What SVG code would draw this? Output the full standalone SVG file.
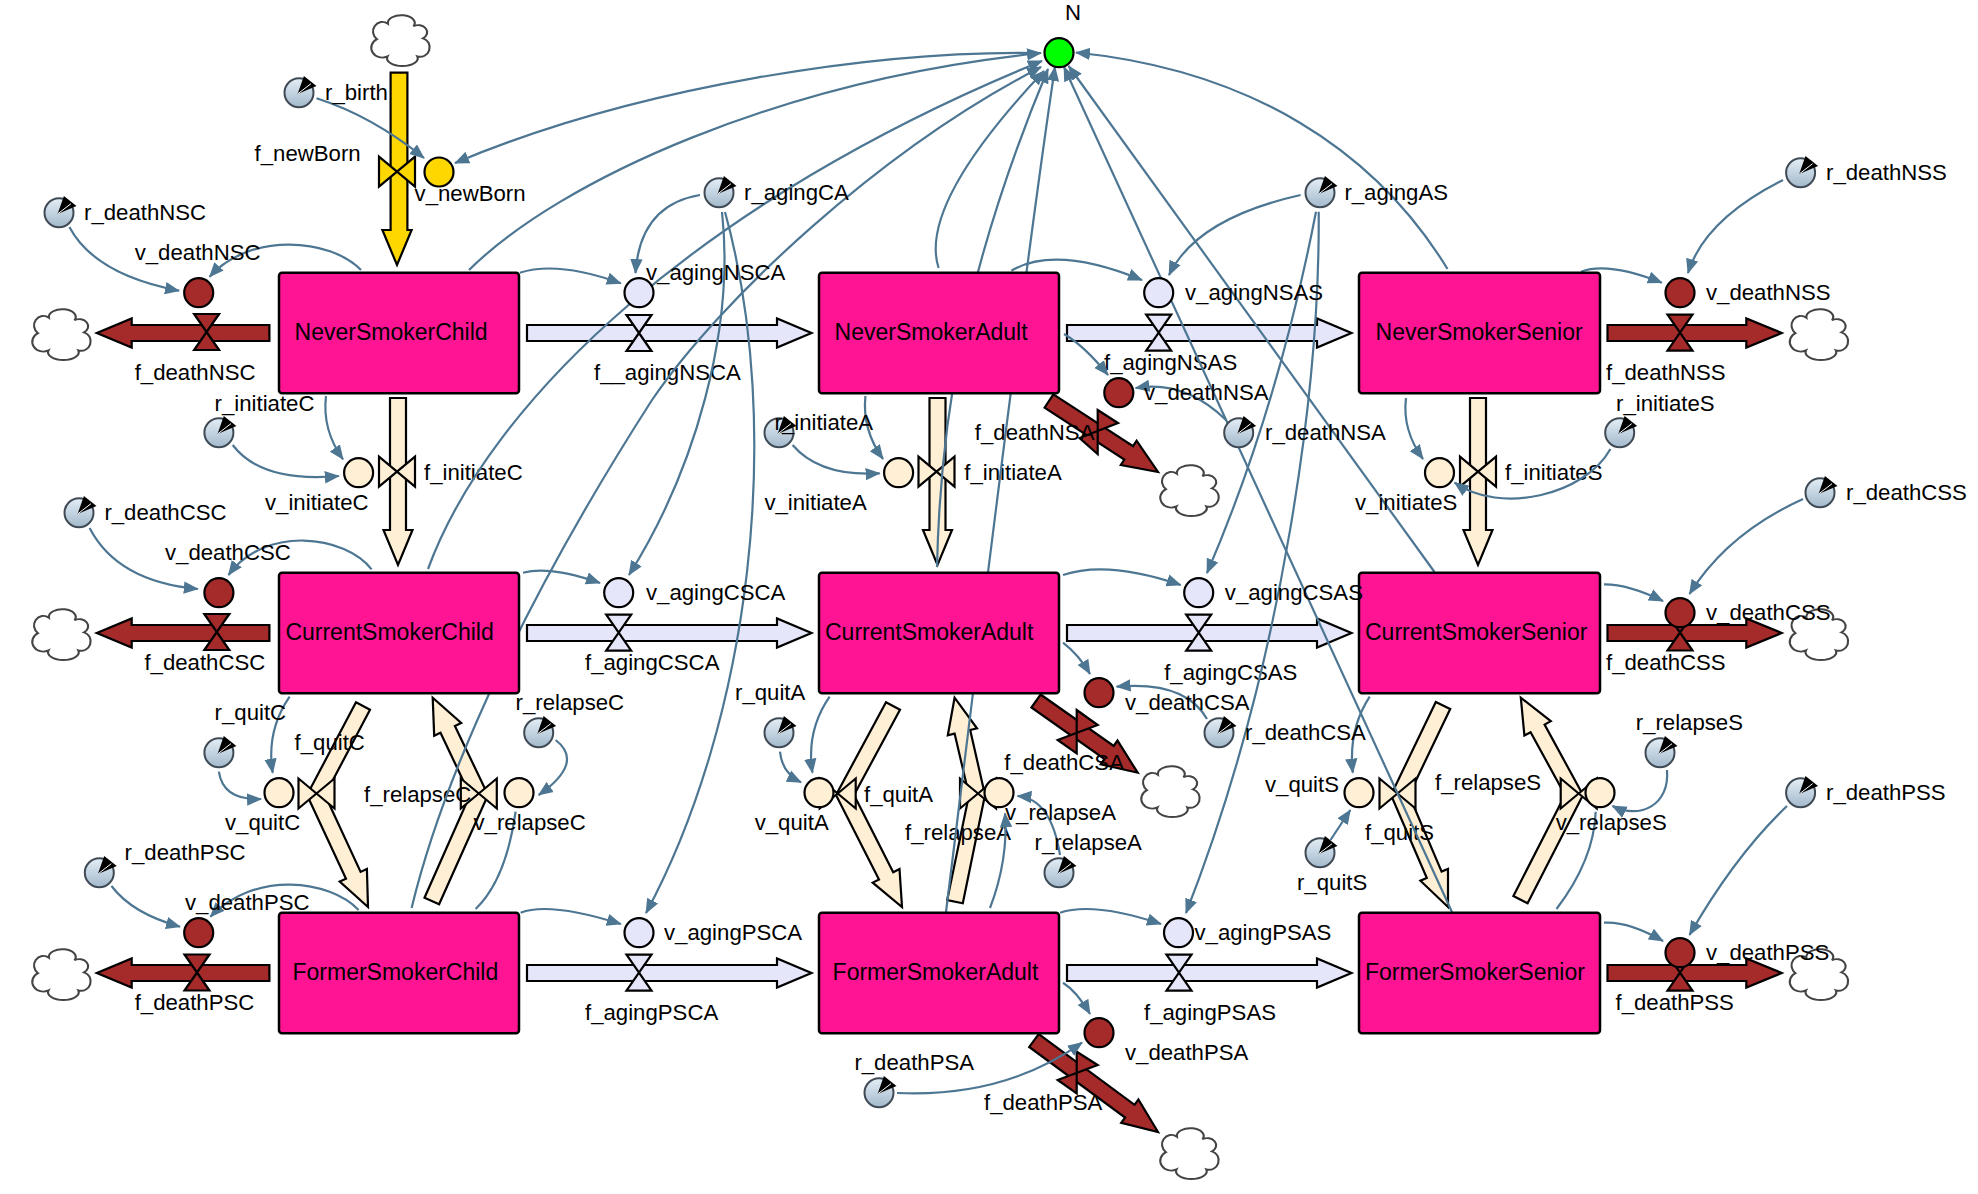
<svg xmlns="http://www.w3.org/2000/svg" xmlns:xlink="http://www.w3.org/1999/xlink" width="1978" height="1194" viewBox="0 0 1978 1194">
<style>
text{font-family:"Liberation Sans",Arial,sans-serif;font-size:22.2px;fill:#000;transform:translateY(1.2px)}
.stock text{font-size:23px}
.stock rect{fill:#FF1493;stroke:#000;stroke-width:2.5}
.fl{stroke:#000;stroke-width:2.2;stroke-linejoin:miter}
.br{fill:#A52A2A}.lv{fill:#E6E6FA}.cr{fill:#FFEFD5}.go{fill:#FFD700}.gr{fill:#00FF00}
.dot{stroke:#000;stroke-width:2.2}
.cloud{fill:#fff;stroke:#444;stroke-width:2.2}
#links path{fill:none;stroke:#4D7693;stroke-width:2.2}
#links path.a{marker-end:url(#ah)}
</style>
<defs>
<marker id="ah" markerUnits="userSpaceOnUse" markerWidth="16" markerHeight="14" viewBox="0 0 16 14" refX="14" refY="7" orient="auto"><path d="M0,0.8 L15,7 L0,13.2 Z" fill="#4D7693"/></marker>
<linearGradient id="gg" x1="0" y1="0" x2="0" y2="1"><stop offset="0" stop-color="#E4EEF6"/><stop offset="1" stop-color="#A3B9CC"/></linearGradient>
<g id="gauge"><circle r="14.5" fill="url(#gg)" stroke="#3F4A55" stroke-width="2"/><polygon points="-1.4,1.3 4.9,-16.7 17.5,-6.7" fill="#000"/><line x1="-1" y1="1" x2="12" y2="-9" stroke="#fff" stroke-width="1"/></g>
<path id="valveV" d="M-12.5,-18 H12.5 L-12.5,18 H12.5 Z" class="fl"/>
<path id="valveH" d="M-18,-15 V15 L18,-15 V15 Z" class="fl"/>
<path id="cloud" class="cloud" transform="translate(1 1) scale(0.96 0.86)" d="M-12.6,-19 A14 9 0 1 1 14,-16 A9 8 0 1 1 24,-2 A9 10 0 1 1 18,19 A16 9 0 1 1 -13,19 A10 10 0 1 1 -24,-1 A8 9 0 1 1 -12.6,-19 Z"/>
<polygon id="aging" class="fl" points="0,-8 250,-8 250,-14.5 284.5,0 250,14.5 250,8 0,8"/>
<polygon id="deathR" class="fl" points="0,-8 138.8,-8 138.8,-14.5 174.2,0 138.8,14.5 138.8,8 0,8"/>
<polygon id="deathL" class="fl" points="0,-8 -137.7,-8 -137.7,-14.5 -172.6,0 -137.7,14.5 -137.7,8 0,8"/>
<polygon id="downC" class="fl" points="-8,0 8,0 8,132 14.5,132 0,167 -14.5,132 -8,132"/>
</defs>
<rect width="1978" height="1194" fill="#fff"/>

<g id="clouds">
<use href="#cloud" x="399" y="39"/><use href="#cloud" x="60" y="333"/><use href="#cloud" x="1817.5" y="333"/>
<use href="#cloud" x="60" y="633"/><use href="#cloud" x="1817.5" y="633"/><use href="#cloud" x="60" y="973"/>
<use href="#cloud" x="1817.5" y="973"/><use href="#cloud" x="1188" y="489"/><use href="#cloud" x="1169" y="790"/><use href="#cloud" x="1188" y="1152"/>
</g>

<g id="f_newBorn"><polygon class="fl go" points="390.6,72.7 407.4,72.7 407.4,230 411.6,230 397,265 382.4,230 390.6,230"/><use href="#valveH" x="397" y="171.7" class="go"/><text x="254.6" y="160">f_newBorn</text></g>
<g id="f_deathNSC"><use href="#deathL" x="269.4" y="333" class="br"/><use href="#valveV" x="206.6" y="332" class="br"/><text x="134.7" y="379">f_deathNSC</text></g>
<g id="f_deathCSC"><use href="#deathL" x="269.4" y="633" class="br"/><use href="#valveV" x="216.8" y="632" class="br"/><text x="144.4" y="669">f_deathCSC</text></g>
<g id="f_deathPSC"><use href="#deathL" x="269.4" y="973" class="br"/><use href="#valveV" x="197" y="972.5" class="br"/><text x="134.7" y="1009">f_deathPSC</text></g>
<g id="f__agingNSCA"><use href="#aging" x="527" y="333" class="lv"/><use href="#valveV" x="639" y="333" class="lv"/><text x="594" y="379">f__agingNSCA</text></g>
<g id="f_agingCSCA"><use href="#aging" x="527" y="633" class="lv"/><use href="#valveV" x="618.7" y="632.7" class="lv"/><text x="585" y="669">f_agingCSCA</text></g>
<g id="f_agingPSCA"><use href="#aging" x="527" y="973" class="lv"/><use href="#valveV" x="639" y="972.7" class="lv"/><text x="585" y="1019">f_agingPSCA</text></g>
<g id="f_agingNSAS"><use href="#aging" x="1067" y="333" class="lv"/><use href="#valveV" x="1158.7" y="332.7" class="lv"/><text x="1104" y="369">f_agingNSAS</text></g>
<g id="f_agingCSAS"><use href="#aging" x="1067" y="633" class="lv"/><use href="#valveV" x="1198.7" y="632.7" class="lv"/><text x="1164.2" y="679">f_agingCSAS</text></g>
<g id="f_agingPSAS"><use href="#aging" x="1067" y="973" class="lv"/><use href="#valveV" x="1179" y="972.7" class="lv"/><text x="1144" y="1019">f_agingPSAS</text></g>
<g id="f_deathNSS"><use href="#deathR" x="1607.5" y="333" class="br"/><use href="#valveV" x="1680" y="332.7" class="br"/><text x="1606" y="379">f_deathNSS</text></g>
<g id="f_deathCSS"><use href="#deathR" x="1607.5" y="633" class="br"/><use href="#valveV" x="1680" y="632.5" class="br"/><text x="1606" y="669">f_deathCSS</text></g>
<g id="f_deathPSS"><use href="#deathR" x="1607.5" y="973" class="br"/><use href="#valveV" x="1680" y="972.7" class="br"/><text x="1615.5" y="1009">f_deathPSS</text></g>
<g id="f_initiateC"><use href="#downC" x="398" y="398" class="cr"/><use href="#valveH" x="397" y="471.7" class="cr"/><text x="424" y="479">f_initiateC</text></g>
<g id="f_initiateA"><use href="#downC" x="937.5" y="398" class="cr"/><use href="#valveH" x="936.5" y="471.7" class="cr"/><text x="964.3" y="479">f_initiateA</text></g>
<g id="f_initiateS"><use href="#downC" x="1478" y="398" class="cr"/><use href="#valveH" x="1478" y="471.7" class="cr"/><text x="1505" y="479">f_initiateS</text></g>
<g id="f_deathNSA"><polygon class="fl br" points="1053.4,394.3 1133.1,446.2 1136.6,440.7 1158,472 1120.8,465 1124.3,459.6 1044.6,407.7"/><path class="fl br" d="M1097.7,410 L1118,423 L1079.6,438 L1097.7,454 Z"/><text x="974.8" y="439">f_deathNSA</text></g>
<g id="f_deathCSA"><polygon class="fl br" points="1040.6,694.5 1113.7,746 1117.5,740.6 1137.7,772.7 1100.7,764.4 1104.5,759 1031.4,707.5"/><path class="fl br" d="M1076.7,710 L1097.7,725 L1057.7,740 L1076.7,753.3 Z"/><text x="1004.3" y="769">f_deathCSA</text></g>
<g id="f_deathPSA"><polygon class="fl br" points="1038.8,1034.1 1134.5,1104.8 1138.4,1099.5 1158,1132 1121.2,1122.9 1125.1,1117.6 1029.2,1046.9"/><path class="fl br" d="M1076.7,1051.7 L1097.7,1065 L1057.7,1080 L1076.7,1093.3 Z"/><text x="984" y="1109">f_deathPSA</text></g>
<g id="f_quitC"><polygon class="fl cr" points="370,709.7 325,795 360.6,871.9 366.9,869 368,907 339.7,881.6 346,878.7 307,795 356,702.3"/><use href="#valveH" x="316.5" y="793.5" class="cr"/><text x="294.6" y="749">f_quitC</text></g>
<g id="f_relapseC"><polygon class="fl cr" points="439.1,904.2 488,795 454.9,725.9 461.2,722.9 432.7,697.7 434.2,735.7 440.5,732.7 470,795 424.5,897.8"/><use href="#valveH" x="478.8" y="793.5" class="cr"/><text x="364" y="801">f_relapseC</text></g>
<g id="f_quitA"><polygon class="fl cr" points="900,709.8 854,795 893.2,872.2 899.5,869 902,907 872.7,882.6 879,879.4 836,795 886,702.2"/><use href="#valveH" x="837.7" y="793.5" class="cr"/><text x="864" y="801">f_quitA</text></g>
<g id="f_relapseA"><polygon class="fl cr" points="962.8,903.3 985,795 970.2,730 977,728.4 954.6,697.7 947.8,735.2 954.6,733.6 969,795 947.2,900.1"/><use href="#valveH" x="978" y="793.5" class="cr"/><text x="905" y="839">f_relapseA</text></g>
<g id="f_quitS"><polygon class="fl cr" points="1450.2,709 1409,795 1441.6,871.6 1448,868.9 1448,907 1420.4,880.7 1426.8,878 1391,795 1435.8,702"/><use href="#valveH" x="1397.5" y="793.5" class="cr"/><text x="1365" y="839">f_quitS</text></g>
<g id="f_relapseS"><polygon class="fl cr" points="1527.6,903.3 1583,795 1544.6,724.6 1550.8,721.2 1520.8,697.7 1524.4,735.6 1530.6,732.2 1565,795 1513.4,896"/><use href="#valveH" x="1578.7" y="793.5" class="cr"/><text x="1435" y="789">f_relapseS</text></g>

<g id="links">
<path class="a" d="M69.4 227 Q94.6 274.5 179 290.7"/>
<path class="a" d="M361 270 C330 238 250 232 209.6 276.7"/>
<path class="a" d="M316.5 98.3 Q372 116 424 158"/>
<path class="a" d="M1041 53 C880 50 640 85 455 163"/>
<path class="a" d="M469 270 C560 180 780 80 1041 53"/>
<path class="a" d="M428 569 C490 400 700 200 1042 61"/>
<path class="a" d="M411.6 908 C445 770 530 590 652 400 C720 300 880 150 1041 67"/>
<path class="a" d="M938.6 268 Q918 204.5 1044 71"/>
<path class="a" d="M937 567 C940 430 960 280 1048 69"/>
<path class="a" d="M946 912 C965 760 1020 300 1055 67"/>
<path class="a" d="M1447.5 269 C1375 150 1250 70 1076 52.5"/>
<path class="a" d="M1434.5 572 L1068.6 66"/>
<path class="a" d="M1452 912 L1064 67"/>
<path class="a" d="M700 195 Q640 205 635.5 273"/>
<path class="a" d="M722 212 C735 330 695 470 629 575"/>
<path class="a" d="M725 212 C785 430 750 720 646 913"/>
<path class="a" d="M1300.6 195 Q1196.4 218.4 1169 275"/>
<path class="a" d="M1316 211.7 Q1278 408 1207 573"/>
<path class="a" d="M1318.7 211.7 C1320 380 1285 660 1186 913"/>
<path class="a" d="M1011.4 270.7 Q1055.3 244.7 1142 280"/>
<path class="a" d="M1064 334 Q1084 345.5 1108 375"/>
<path class="a" d="M1226 420 Q1185 380 1135.6 388"/>
<path class="a" d="M519.8 272.7 Q557.7 260.6 620.8 283.3"/>
<path class="a" d="M523 572.7 Q549.5 565.5 600 583"/>
<path class="a" d="M232.7 445 Q261.4 482.9 338.8 476"/>
<path class="a" d="M326 396 Q322 430 343 459.3"/>
<path class="a" d="M89.6 528 Q117.3 581.5 197.8 589"/>
<path class="a" d="M371.6 569.3 C345 535 265 525 228.5 575"/>
<path class="a" d="M289.6 696.7 Q266 731.3 272.7 772.7"/>
<path class="a" d="M218.9 771.7 Q223 800.7 261 799"/>
<path class="a" d="M555.6 740 Q585 762.5 538.7 795"/>
<path d="M475.6 909 Q506 879.6 515.6 811.7"/>
<path class="a" d="M111.5 886 Q132.2 913.6 180 926.7"/>
<path class="a" d="M358.6 910 C330 880 255 870 210.4 916.7"/>
<path class="a" d="M520.6 912.7 Q549.3 901.6 620.8 924"/>
<path class="a" d="M1060 912.7 Q1093.5 901.6 1161 924"/>
<path class="a" d="M1063 982.7 Q1077 991.6 1090 1014"/>
<path class="a" d="M897 1093 Q1003.9 1098 1082 1042.7"/>
<path class="a" d="M792.6 445 Q820 477 879.7 473.3"/>
<path class="a" d="M865.4 396 Q862 430 883 459"/>
<path class="a" d="M1063 575 Q1107.2 560 1180.6 585"/>
<path class="a" d="M1063 642.7 Q1079 655 1090 674"/>
<path class="a" d="M1207 719 Q1185.2 680.5 1116.6 686.7"/>
<path class="a" d="M829.6 696.7 Q806 731 812.4 772.7"/>
<path class="a" d="M780 751.7 Q782 773 801 782.3"/>
<path class="a" d="M990 908 Q1008.5 859.4 1005 813.3"/>
<path class="a" d="M1060 855 Q1051 798.5 1017.5 796"/>
<path class="a" d="M1610.4 449 C1585 495 1500 515 1454.7 482.7"/>
<path class="a" d="M1406 398 Q1402 430 1423 459"/>
<path class="a" d="M1803 499 Q1727.2 533.5 1689.5 594"/>
<path class="a" d="M1604 584.3 Q1628 584 1663 601"/>
<path class="a" d="M1369.7 696.7 Q1348 730 1352.8 772.7"/>
<path class="a" d="M1330.5 840 L1350.3 810"/>
<path class="a" d="M1667 770 C1670 805 1640 820 1612.5 806"/>
<path d="M1556.5 909 Q1594 859.6 1595.7 811.7"/>
<path class="a" d="M1787 806 Q1735 855.5 1689.5 935"/>
<path class="a" d="M1604 922.7 Q1628 921 1663 941"/>
<path class="a" d="M1783 180 Q1704.5 219.5 1688 273"/>
<path class="a" d="M1581 271.7 Q1607.8 261.4 1661.8 282.7"/>
</g>

<g id="NeverSmokerChild" class="stock"><rect x="279" y="272.7" width="240" height="120.6" rx="3"/><text x="294.6" y="339">NeverSmokerChild</text></g>
<g id="NeverSmokerAdult" class="stock"><rect x="819" y="272.7" width="240" height="120.6" rx="3"/><text x="834.6" y="339">NeverSmokerAdult</text></g>
<g id="NeverSmokerSenior" class="stock"><rect x="1359" y="272.7" width="241" height="120.6" rx="3"/><text x="1375.6" y="339">NeverSmokerSenior</text></g>
<g id="CurrentSmokerChild" class="stock"><rect x="279" y="572.7" width="240" height="120.6" rx="3"/><text x="285.4" y="639">CurrentSmokerChild</text></g>
<g id="CurrentSmokerAdult" class="stock"><rect x="819" y="572.7" width="240" height="120.6" rx="3"/><text x="825" y="639">CurrentSmokerAdult</text></g>
<g id="CurrentSmokerSenior" class="stock"><rect x="1359" y="572.7" width="241" height="120.6" rx="3"/><text x="1365" y="639">CurrentSmokerSenior</text></g>
<g id="FormerSmokerChild" class="stock"><rect x="279" y="912.7" width="240" height="120.6" rx="3"/><text x="292.5" y="979">FormerSmokerChild</text></g>
<g id="FormerSmokerAdult" class="stock"><rect x="819" y="912.7" width="240" height="120.6" rx="3"/><text x="832.6" y="979">FormerSmokerAdult</text></g>
<g id="FormerSmokerSenior" class="stock"><rect x="1359" y="912.7" width="241" height="120.6" rx="3"/><text x="1365" y="979">FormerSmokerSenior</text></g>

<g id="N"><circle cx="1059" cy="52.7" r="14.5" class="dot gr"/><text x="1065" y="19">N</text></g>
<g id="v_newBorn"><circle cx="439" cy="172" r="14.5" class="dot go"/><text x="414.6" y="200">v_newBorn</text></g>
<g id="v_deathNSC"><circle cx="198.7" cy="292.7" r="14.5" class="dot br"/><text x="134.7" y="259">v_deathNSC</text></g>
<g id="v_deathCSC"><circle cx="218.9" cy="592.7" r="14.5" class="dot br"/><text x="165" y="559">v_deathCSC</text></g>
<g id="v_deathPSC"><circle cx="198.7" cy="932.7" r="14.5" class="dot br"/><text x="185" y="909">v_deathPSC</text></g>
<g id="v_agingNSCA"><circle cx="639" cy="292.7" r="14.5" class="dot lv"/><text x="646" y="279">v_agingNSCA</text></g>
<g id="v_agingCSCA"><circle cx="618.7" cy="592.7" r="14.5" class="dot lv"/><text x="646" y="599">v_agingCSCA</text></g>
<g id="v_agingPSCA"><circle cx="639" cy="932.7" r="14.5" class="dot lv"/><text x="664" y="939">v_agingPSCA</text></g>
<g id="v_agingNSAS"><circle cx="1158.7" cy="292.7" r="14.5" class="dot lv"/><text x="1185" y="299">v_agingNSAS</text></g>
<g id="v_agingCSAS"><circle cx="1198.7" cy="592.7" r="14.5" class="dot lv"/><text x="1224.8" y="599">v_agingCSAS</text></g>
<g id="v_agingPSAS"><circle cx="1178.5" cy="932.7" r="14.5" class="dot lv"/><text x="1194.5" y="939">v_agingPSAS</text></g>
<g id="v_deathNSA"><circle cx="1118.8" cy="392.7" r="14.5" class="dot br"/><text x="1144" y="399">v_deathNSA</text></g>
<g id="v_deathCSA"><circle cx="1099" cy="692.7" r="14.5" class="dot br"/><text x="1125" y="709">v_deathCSA</text></g>
<g id="v_deathPSA"><circle cx="1099" cy="1032.7" r="14.5" class="dot br"/><text x="1125" y="1059">v_deathPSA</text></g>
<g id="v_deathNSS"><circle cx="1680" cy="292.7" r="14.5" class="dot br"/><text x="1706" y="299">v_deathNSS</text></g>
<g id="v_deathCSS"><circle cx="1680" cy="612.7" r="14.5" class="dot br"/><text x="1706" y="619">v_deathCSS</text></g>
<g id="v_deathPSS"><circle cx="1680" cy="952.7" r="14.5" class="dot br"/><text x="1706" y="959">v_deathPSS</text></g>
<g id="v_initiateC"><circle cx="358.6" cy="472.7" r="14.5" class="dot cr"/><text x="265" y="509">v_initiateC</text></g>
<g id="v_initiateA"><circle cx="898.6" cy="472.7" r="14.5" class="dot cr"/><text x="764.4" y="509">v_initiateA</text></g>
<g id="v_initiateS"><circle cx="1439.5" cy="472.7" r="14.5" class="dot cr"/><text x="1355" y="509">v_initiateS</text></g>
<g id="v_quitC"><circle cx="279" cy="792.7" r="14.5" class="dot cr"/><text x="225" y="829">v_quitC</text></g>
<g id="v_relapseC"><circle cx="519" cy="792.7" r="14.5" class="dot cr"/><text x="473.5" y="829">v_relapseC</text></g>
<g id="v_quitA"><circle cx="819" cy="792.7" r="14.5" class="dot cr"/><text x="754.7" y="829">v_quitA</text></g>
<g id="v_relapseA"><circle cx="999" cy="792.7" r="14.5" class="dot cr"/><text x="1005" y="819">v_relapseA</text></g>
<g id="v_quitS"><circle cx="1359" cy="792.7" r="14.5" class="dot cr"/><text x="1265" y="791">v_quitS</text></g>
<g id="v_relapseS"><circle cx="1600" cy="792.7" r="14.5" class="dot cr"/><text x="1555.7" y="829">v_relapseS</text></g>

<g id="r_birth"><use href="#gauge" x="299" y="92.7"/><text x="325" y="99">r_birth</text></g>
<g id="r_deathNSC"><use href="#gauge" x="59" y="212.7"/><text x="84" y="219">r_deathNSC</text></g>
<g id="r_deathCSC"><use href="#gauge" x="79" y="512.7"/><text x="104.4" y="519">r_deathCSC</text></g>
<g id="r_deathPSC"><use href="#gauge" x="99.3" y="872.7"/><text x="124.6" y="859">r_deathPSC</text></g>
<g id="r_agingCA"><use href="#gauge" x="719" y="192.7"/><text x="744" y="199">r_agingCA</text></g>
<g id="r_agingAS"><use href="#gauge" x="1320" y="192.7"/><text x="1344.4" y="199">r_agingAS</text></g>
<g id="r_deathNSS"><use href="#gauge" x="1800.6" y="172.7"/><text x="1826" y="179">r_deathNSS</text></g>
<g id="r_deathCSS"><use href="#gauge" x="1820" y="492.7"/><text x="1846" y="499">r_deathCSS</text></g>
<g id="r_deathPSS"><use href="#gauge" x="1800.6" y="792.7"/><text x="1826" y="799">r_deathPSS</text></g>
<g id="r_initiateC"><use href="#gauge" x="218.9" y="432.7"/><text x="214.6" y="410">r_initiateC</text></g>
<g id="r_initiateA"><use href="#gauge" x="779" y="432.7"/><text x="774.5" y="429">r_initiateA</text></g>
<g id="r_initiateS"><use href="#gauge" x="1619.7" y="432.7"/><text x="1616" y="410">r_initiateS</text></g>
<g id="r_deathNSA"><use href="#gauge" x="1238.7" y="432.7"/><text x="1265" y="439">r_deathNSA</text></g>
<g id="r_deathCSA"><use href="#gauge" x="1219" y="732.7"/><text x="1245" y="739">r_deathCSA</text></g>
<g id="r_deathPSA"><use href="#gauge" x="879" y="1092.7"/><text x="854.4" y="1069">r_deathPSA</text></g>
<g id="r_quitC"><use href="#gauge" x="218.9" y="752.7"/><text x="214.6" y="719">r_quitC</text></g>
<g id="r_quitA"><use href="#gauge" x="779" y="732.7"/><text x="735" y="699">r_quitA</text></g>
<g id="r_quitS"><use href="#gauge" x="1320" y="852.7"/><text x="1297" y="889">r_quitS</text></g>
<g id="r_relapseC"><use href="#gauge" x="538.7" y="732.7"/><text x="515.6" y="709">r_relapseC</text></g>
<g id="r_relapseA"><use href="#gauge" x="1059" y="872.7"/><text x="1034.6" y="849">r_relapseA</text></g>
<g id="r_relapseS"><use href="#gauge" x="1660" y="752.7"/><text x="1635.7" y="729">r_relapseS</text></g>
</svg>
